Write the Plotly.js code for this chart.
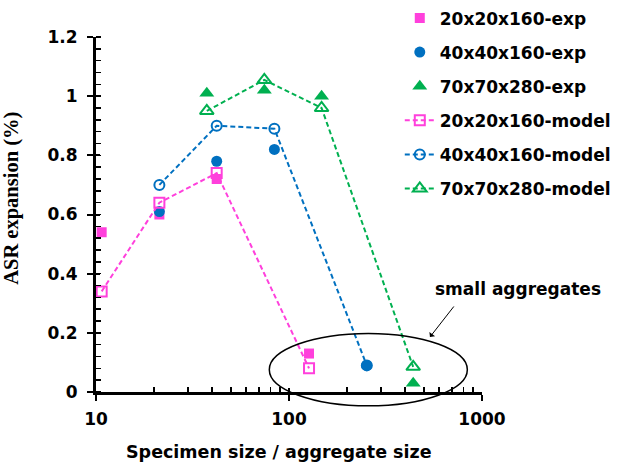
<!DOCTYPE html>
<html>
<head>
<meta charset="utf-8">
<script src="https://cdn.plot.ly/plotly-3.0.1.min.js"></script>
<style>html,body{margin:0;padding:0;background:#fff;}#chart{width:618px;height:468px;}</style>
</head>
<body>
<div id="chart"></div>
<script>
// Data
var seriesNames = ["20x20x160-exp","40x40x160-exp","70x70x280-exp","20x20x160-model","40x40x160-model","70x70x280-model"];

var x20exp = [10.7, 21.3, 42.2, 127];
var y20exp = [0.54, 0.60, 0.72, 0.13];

var x40exp = [21.3, 42.2, 84, 253];
var y40exp = [0.61, 0.78, 0.82, 0.09];

var x70exp = [37.5, 74.5, 147.5, 440];
var y70exp = [1.01, 1.02, 1.00, 0.03];

var x20mod = [10.7, 21.3, 42.2, 127];
var y20mod = [0.34, 0.64, 0.74, 0.08];

var x40mod = [21.3, 42.2, 84, 253];
var y40mod = [0.70, 0.90, 0.89, 0.09];

var x70mod = [37.5, 74.5, 147.5, 440];
var y70mod = [0.95, 1.055, 0.96, 0.085];

var xMajorTicks = [10, 100, 1000];
var xMinorTicks = [20,30,40,50,60,70,80,90,200,300,400,500,600,700,800,900];

var PINK = '#FF40DC', BLUE = '#0070C0', GREEN = '#00B050';
var FONT = 'DejaVu Sans';

function expTrace(i, x, y, sym, color, size) {
  return {x: x, y: y, name: seriesNames[i], type: 'scatter', mode: 'markers',
    legendgroup: 'g' + i,
    marker: {symbol: sym, color: color, size: size, line: {width: 0}}};
}
function modTrace(i, x, y, sym, color, size) {
  return {x: x, y: y, name: seriesNames[i], type: 'scatter', mode: 'lines+markers',
    legendgroup: 'g' + i,
    line: {color: color, width: 2, dash: '5px,3px'},
    marker: {symbol: sym, color: color, size: size, line: {color: color, width: 2}}};
}

var data = [
  expTrace(0, x20exp, y20exp, 'square', PINK, 10),
  expTrace(1, x40exp, y40exp, 'circle', BLUE, 11),
  expTrace(2, x70exp, y70exp, 'triangle-up', GREEN, 13),
  modTrace(3, x20mod, y20mod, 'square-open', PINK, 10),
  modTrace(4, x40mod, y40mod, 'circle-open', BLUE, 10),
  modTrace(5, x70mod, y70mod, 'triangle-up-open', GREEN, 12),
  {x: [null], y: [null], xaxis: 'x2', yaxis: 'y2', type: 'scatter', mode: 'markers', showlegend: false, hoverinfo: 'skip'}
];

var layout = {
  width: 618, height: 468,
  margin: {l: 96, r: 136, t: 37, b: 76, autoexpand: false},
  paper_bgcolor: '#fff', plot_bgcolor: '#fff',
  font: {family: FONT, color: '#000'},
  showlegend: true,
  legend: {x: 0.787, xanchor: 'left', y: 1.103, yanchor: 'top',
    font: {family: FONT, size: 17, color: '#000', weight: 'bold'},
    traceorder: 'grouped', tracegroupgap: 9, bgcolor: 'rgba(0,0,0,0)'},
  xaxis: {type: 'log', range: [1, 3], showgrid: false, zeroline: false,
    showline: true, linecolor: '#000', linewidth: 3,
    tickmode: 'array', tickvals: xMajorTicks, ticktext: ['10','100','1000'],
    ticks: 'outside', ticklen: 6, tickwidth: 2, tickcolor: '#000', ticklabelstandoff: 4,
    tickfont: {family: FONT, size: 17, weight: 'bold'},
    minor: {tickmode: 'array', tickvals: xMinorTicks, ticks: 'inside', ticklen: 5, tickwidth: 1.5, tickcolor: '#000', showgrid: false}},
  yaxis: {range: [0, 1.2], showgrid: false, zeroline: false,
    showline: true, linecolor: '#000', linewidth: 3,
    tickmode: 'linear', tick0: 0, dtick: 0.2,
    ticks: 'outside', ticklen: 6, tickwidth: 2, tickcolor: '#000', ticklabelstandoff: 6,
    tickfont: {family: FONT, size: 17, weight: 'bold'},
    minor: {dtick: 0.04, ticks: 'inside', ticklen: 5, tickwidth: 1.5, tickcolor: '#000', showgrid: false}},
  xaxis2: {type: 'log', range: [1, 3], overlaying: 'x', showgrid: false, zeroline: false,
    showline: false, tickmode: 'array', tickvals: xMajorTicks, showticklabels: false,
    ticks: 'inside', ticklen: 4, tickwidth: 2, tickcolor: '#000'},
  yaxis2: {range: [0, 1.2], overlaying: 'y', showgrid: false, zeroline: false,
    showline: false, tickmode: 'linear', tick0: 0, dtick: 0.2, showticklabels: false,
    ticks: 'inside', ticklen: 4, tickwidth: 2, tickcolor: '#000'},
  shapes: [
    {type: 'circle', xref: 'paper', yref: 'paper', x0: 0.449, x1: 0.962, y0: -0.039, y1: 0.165,
      line: {color: '#000', width: 1.5}, fillcolor: 'rgba(0,0,0,0)', layer: 'above'}
  ],
  annotations: [
    {xref: 'paper', yref: 'paper', x: 0.8653, y: 0.155, ax: 25, ay: -32, text: '',
      showarrow: true, arrowhead: 1, arrowsize: 1.2, arrowwidth: 1, arrowcolor: '#000'},
    {xref: 'paper', yref: 'paper', x: 1.093, y: 0.290, text: 'small aggregates', showarrow: false,
      font: {family: FONT, size: 17, weight: 'bold', color: '#000'}, xanchor: 'center', yanchor: 'middle'},
    {xref: 'paper', yref: 'paper', x: 0.474, y: -0.168, text: 'Specimen size / aggregate size', showarrow: false,
      font: {family: FONT, size: 17.5, weight: 'bold', color: '#000'}, xanchor: 'center', yanchor: 'middle'},
    {xref: 'paper', yref: 'paper', x: -0.2185, y: 0.546, text: 'ASR expansion (%)', showarrow: false, textangle: -90,
      font: {family: 'Liberation Serif', size: 20.5, weight: 'bold', color: '#000'}, xanchor: 'center', yanchor: 'middle'}
  ]
};

Plotly.newPlot('chart', data, layout, {displayModeBar: false, staticPlot: true});
</script>
</body>
</html>
